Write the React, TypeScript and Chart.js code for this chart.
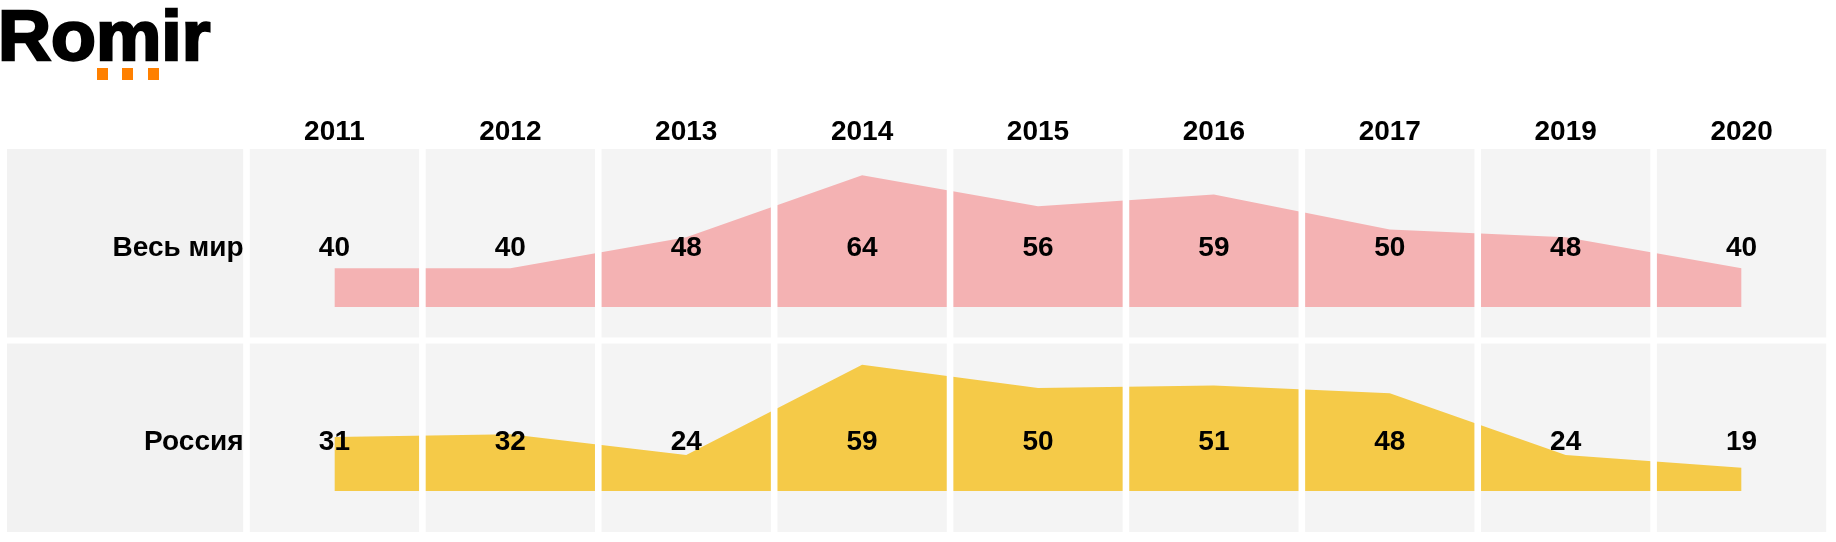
import React, { useEffect, useRef } from 'react';
import { Chart, registerables } from 'chart.js';

Chart.register(...registerables);

const years = ['2011', '2012', '2013', '2014', '2015', '2016', '2017', '2019', '2020'];
const rowLabels = ['Весь мир', 'Россия'];
const worldValues = [40, 40, 48, 64, 56, 59, 50, 48, 40];
const russiaValues = [31, 32, 24, 59, 50, 51, 48, 24, 19];
const worldBase = 30;
const russiaBase = 10;

const WORLD_COLOR = '#F4B2B3';
const RUSSIA_COLOR = '#F5CA48';
const PANEL_COLOR = '#F4F4F4';
const LABEL_PANEL_COLOR = '#F2F2F2';
const FONT = 'bold 28px "Liberation Sans", Arial, sans-serif';

const W = 1836;
const H = 542;

const tablePlugin = {
  id: 'tablePlugin',
  beforeDatasetsDraw(chart: any) {
    const { ctx, chartArea, scales } = chart;
    const rows = [scales.yW, scales.yR];
    ctx.save();
    rows.forEach((s: any) => {
      ctx.fillStyle = LABEL_PANEL_COLOR;
      ctx.fillRect(7, s.top, chartArea.left - 7, s.bottom - s.top);
      ctx.fillStyle = PANEL_COLOR;
      ctx.fillRect(chartArea.left, s.top, chartArea.right - chartArea.left, s.bottom - s.top);
    });
    ctx.restore();
  },
  afterDatasetsDraw(chart: any) {
    const { ctx, chartArea, scales } = chart;
    const x = scales.x;
    const rows = [scales.yW, scales.yR];
    const seriesList = [worldValues, russiaValues];
    const n = years.length;
    const band = (x.right - x.left) / n;
    ctx.save();
    ctx.fillStyle = '#FFFFFF';
    for (let k = 0; k <= n; k++) {
      const bx = x.left + k * band;
      ctx.fillRect(bx - 3.3, chartArea.top, 6.6, chartArea.bottom - chartArea.top);
    }
    const tops = rows.map((s: any) => s.top).sort((a: number, b: number) => a - b);
    const boundary = tops[1];
    ctx.fillRect(0, boundary - 3, W, 6);

    ctx.fillStyle = '#000000';
    ctx.font = FONT;
    ctx.textBaseline = 'alphabetic';
    ctx.textAlign = 'center';
    years.forEach((yr, i) => {
      ctx.fillText(yr, x.getPixelForValue(i), chartArea.top - 9);
    });
    rows.forEach((s: any, r: number) => {
      const panelTop = s.top > chartArea.top + 1 ? s.top + 3 : s.top;
      const baseY = panelTop + 106.5;
      ctx.textAlign = 'right';
      ctx.fillText(rowLabels[r], chartArea.left - 3, baseY);
      ctx.textAlign = 'center';
      seriesList[r].forEach((v, i) => {
        ctx.fillText(String(v), x.getPixelForValue(i), baseY);
      });
    });
    ctx.restore();
  },
};

export default function App() {
  const canvasRef = useRef<HTMLCanvasElement | null>(null);

  useEffect(() => {
    const canvas = canvasRef.current;
    if (!canvas) return;
    const chart = new Chart(canvas, {
      type: 'line',
      data: {
        labels: years,
        datasets: [
          {
            label: rowLabels[0],
            data: worldValues,
            yAxisID: 'yW',
            backgroundColor: WORLD_COLOR,
            borderWidth: 0,
            pointRadius: 0,
            tension: 0,
            fill: { value: worldBase },
          },
          {
            label: rowLabels[1],
            data: russiaValues,
            yAxisID: 'yR',
            backgroundColor: RUSSIA_COLOR,
            borderWidth: 0,
            pointRadius: 0,
            tension: 0,
            fill: { value: russiaBase },
          },
        ],
      },
      options: {
        responsive: false,
        animation: false,
        devicePixelRatio: 1,
        layout: { padding: { left: 246.5, right: 6.5, top: 149, bottom: 10 } },
        plugins: {
          legend: { display: false },
          tooltip: { enabled: false },
          title: { display: false },
        },
        scales: {
          x: { type: 'category', offset: true, display: false },
          yR: {
            type: 'linear',
            display: false,
            position: 'left',
            stack: 'rows',
            stackWeight: 1,
            min: -5.92,
            max: 68.45,
          },
          yW: {
            type: 'linear',
            display: false,
            position: 'left',
            stack: 'rows',
            stackWeight: 1,
            min: 21.35,
            max: 70.77,
          },
        },
      },
      plugins: [tablePlugin],
    } as any);
    return () => chart.destroy();
  }, []);

  return (
    <div style={{ position: 'absolute', left: 0, top: 0, width: W, height: H, background: '#FFFFFF' }}>
      <canvas
        ref={canvasRef}
        width={W}
        height={H}
        style={{ position: 'absolute', left: 0, top: 0, width: W, height: H }}
      />
      <div
        style={{
          position: 'absolute',
          left: -2,
          top: 1,
          fontFamily: '"Liberation Sans", Arial, sans-serif',
          fontWeight: 'bold',
          fontSize: 70,
          lineHeight: '70px',
          letterSpacing: 0,
          color: '#000000',
          WebkitTextStroke: '2.5px #000000',
          transform: 'scaleX(1.05)',
          transformOrigin: '0 0',
          whiteSpace: 'nowrap',
        }}
      >
        Romir
      </div>
      {[97, 122, 148].map((lx) => (
        <div
          key={lx}
          style={{ position: 'absolute', left: lx, top: 68, width: 11, height: 12, background: '#FF8000' }}
        />
      ))}
    </div>
  );
}
